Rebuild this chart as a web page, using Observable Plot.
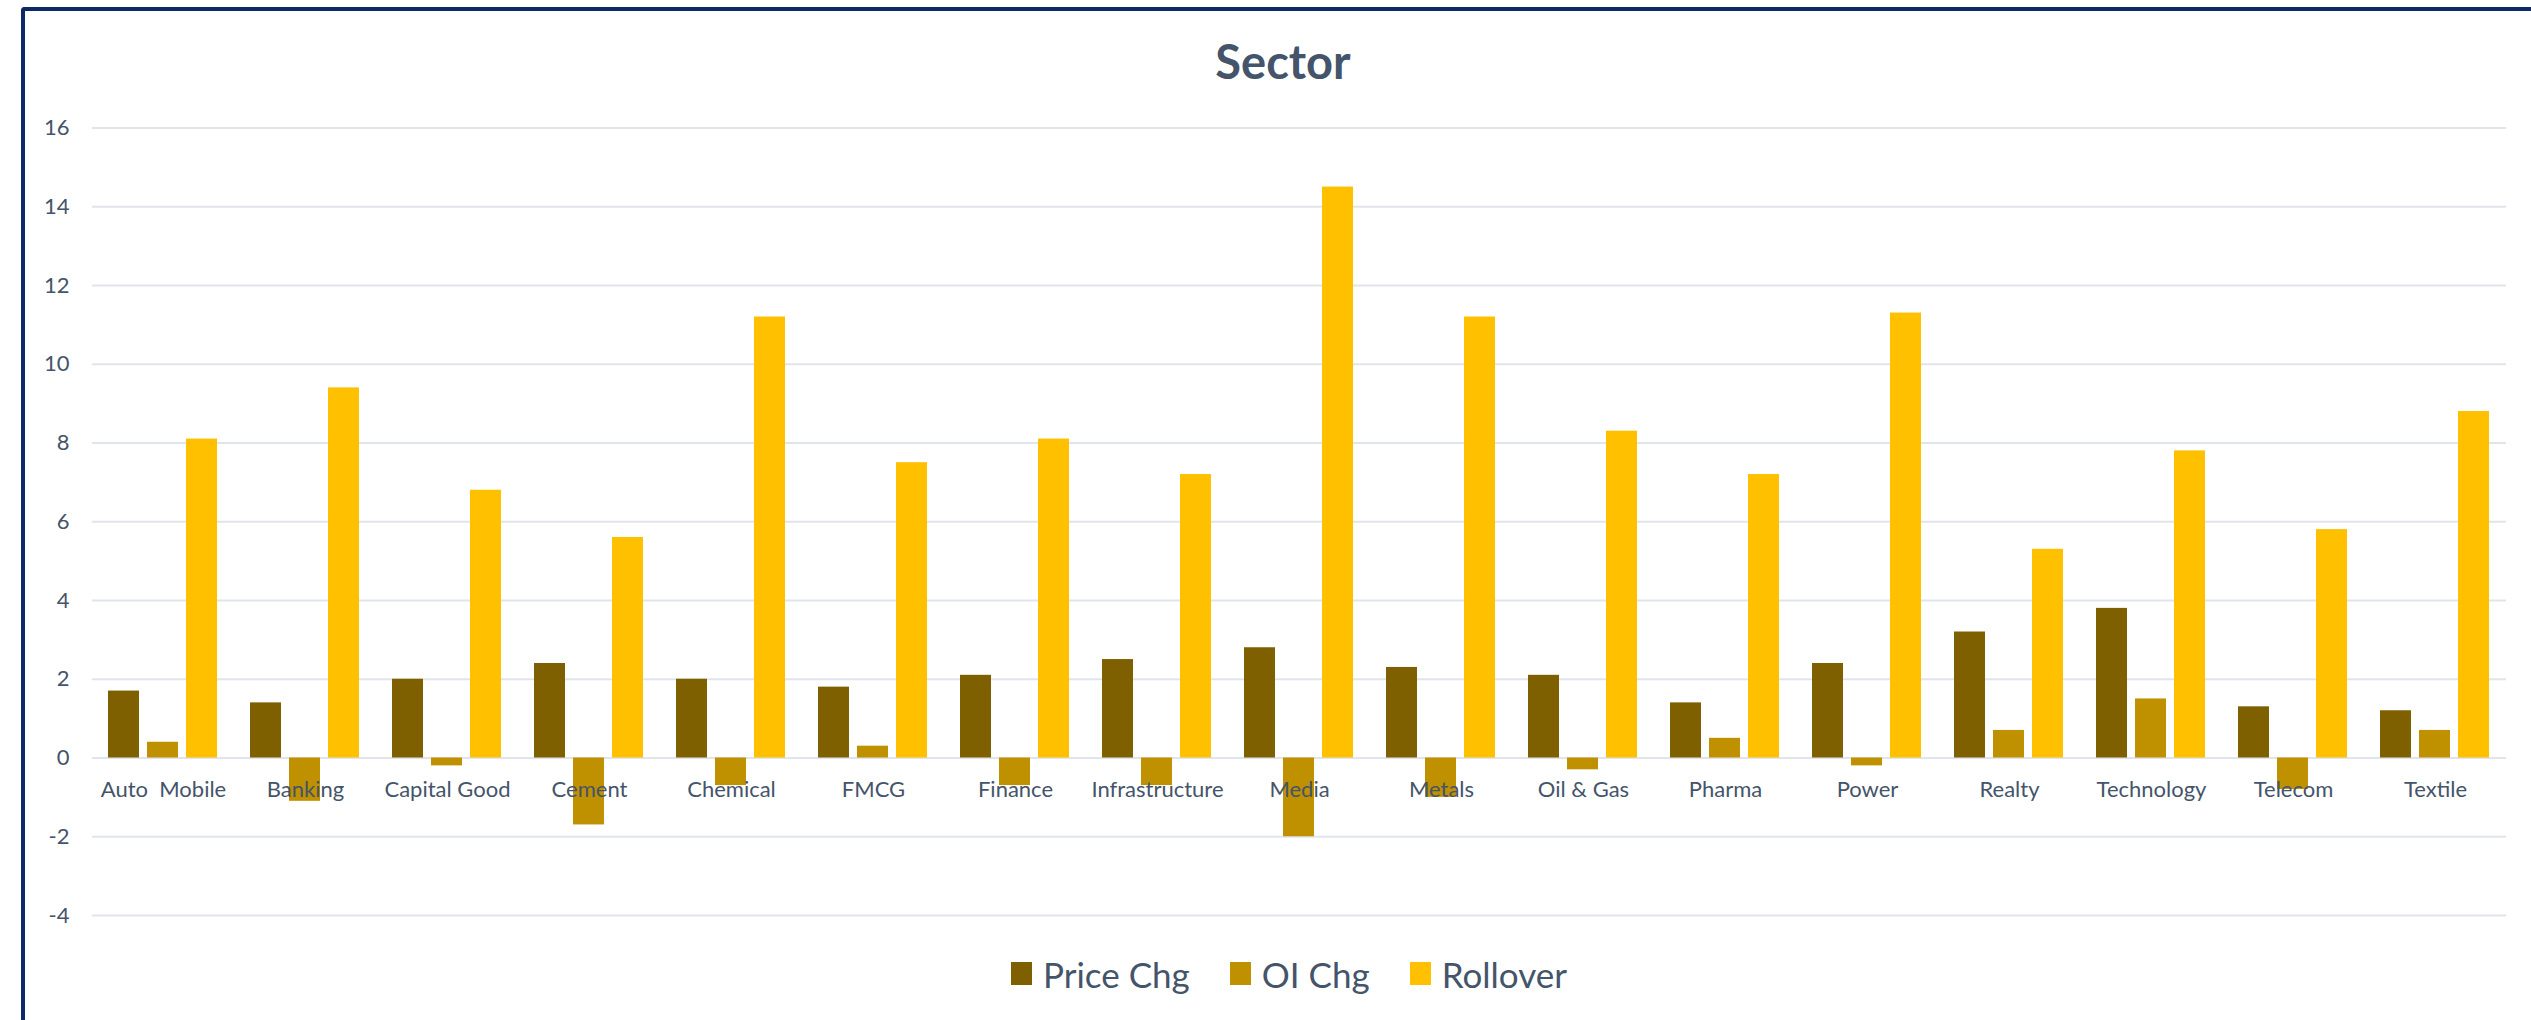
<!DOCTYPE html>
<html>
<head>
<meta charset="utf-8">
<script src="https://cdn.jsdelivr.net/npm/d3@7"></script>
<script src="https://cdn.jsdelivr.net/npm/@observablehq/plot@0.6"></script>
<style>
  html, body { margin: 0; padding: 0; background: #fff; overflow: hidden; width: 2531px; height: 1020px; }
  #frame {
    position: absolute; left: 21px; top: 7px; width: 2600px; height: 1100px;
    border-left: 4px solid #0E2A66; border-top: 4px solid #0E2A66; border-top-left-radius: 4px;
    box-sizing: content-box;
  }
  #inner { width: 2506px; }
  #title {
    height: 100px; line-height: 100px; text-align: center; padding-left: 10px;
    font-family: Lato, sans-serif; font-weight: bold; font-size: 47px; color: #44546A;
  }
  #chart svg text { white-space: pre; }
  #legend {
    height: 65px; display: flex; justify-content: center; align-items: center; padding-left: 22px;
    font-family: Lato, sans-serif; font-size: 35px; color: #44546A;
  }
  .item { display: flex; align-items: center; margin: 0 20px; }
  .sw { width: 21px; height: 23px; margin-right: 11px; }
</style>
</head>
<body>
<div id="frame"><div id="inner">
  <div id="title"></div>
  <div id="chart"></div>
  <div id="legend"></div>
</div></div>
<script>
const titleText = "Sector";
const sectors = ["Auto  Mobile", "Banking", "Capital Good", "Cement", "Chemical", "FMCG", "Finance", "Infrastructure", "Media", "Metals", "Oil & Gas", "Pharma", "Power", "Realty", "Technology", "Telecom", "Textile"];
const series = ["Price Chg", "OI Chg", "Rollover"];
const priceChg = [1.7, 1.4, 2.0, 2.4, 2.0, 1.8, 2.1, 2.5, 2.8, 2.3, 2.1, 1.4, 2.4, 3.2, 3.8, 1.3, 1.2];
const oiChg = [0.4, -1.1, -0.2, -1.7, -0.7, 0.3, -0.7, -0.7, -2.0, -1.0, -0.3, 0.5, -0.2, 0.7, 1.5, -0.8, 0.7];
const rollover = [8.1, 9.4, 6.8, 5.6, 11.2, 7.5, 8.1, 7.2, 14.5, 11.2, 8.3, 7.2, 11.3, 5.3, 7.8, 5.8, 8.8];
const yTicks = [-4, -2, 0, 2, 4, 6, 8, 10, 12, 14, 16];
const colors = ["#7F6000", "#BF9000", "#FFC000"];

const seriesValues = [priceChg, oiChg, rollover];
const data = [];
sectors.forEach((s, i) => {
  series.forEach((k, j) => data.push({sector: s, series: k, value: seriesValues[j][i]}));
});

document.getElementById("title").textContent = titleText;

const W = 2506, H = 830, mL = 62, mR = 19, mT = 16.5, mB = 26;
const padInner = 0.225;
const step = (W - mL - mR) / sectors.length;
const gridExt = -padInner * step / 2;
const textColor = "#44546A";
const font = "Lato, sans-serif";

const chart = Plot.plot({
  width: W, height: H,
  marginLeft: mL, marginRight: mR, marginTop: mT, marginBottom: mB,
  style: {fontFamily: font, background: "transparent"},
  fx: {domain: sectors, paddingInner: padInner, paddingOuter: padInner / 2, axis: null, label: null},
  x: {domain: series, paddingInner: 0.2025, paddingOuter: 0, axis: null, label: null},
  y: {domain: [-4, 16], label: null},
  color: {domain: series, range: colors},
  marks: [
    Plot.ruleY(yTicks, {stroke: "#E1E4EA", strokeWidth: 2, insetLeft: gridExt, insetRight: gridExt}),
    Plot.axisY(yTicks, {tickSize: 0, tickPadding: 23 - gridExt, fontSize: 22, fill: textColor, label: null, tickFormat: d => String(d)}),
    Plot.barY(data, {fx: "sector", x: "series", y: "value", fill: "series"}),
    Plot.text(sectors, {fx: d => d, y: 0, text: d => d, dy: 32, fontSize: 22, fill: textColor})
  ]
});
document.getElementById("chart").appendChild(chart);

const legend = document.getElementById("legend");
series.forEach((s, i) => {
  const it = document.createElement("div");
  it.className = "item";
  const sw = document.createElement("div");
  sw.className = "sw";
  sw.style.background = colors[i];
  const lb = document.createElement("span");
  lb.textContent = s;
  it.appendChild(sw); it.appendChild(lb);
  legend.appendChild(it);
});
</script>
</body>
</html>
